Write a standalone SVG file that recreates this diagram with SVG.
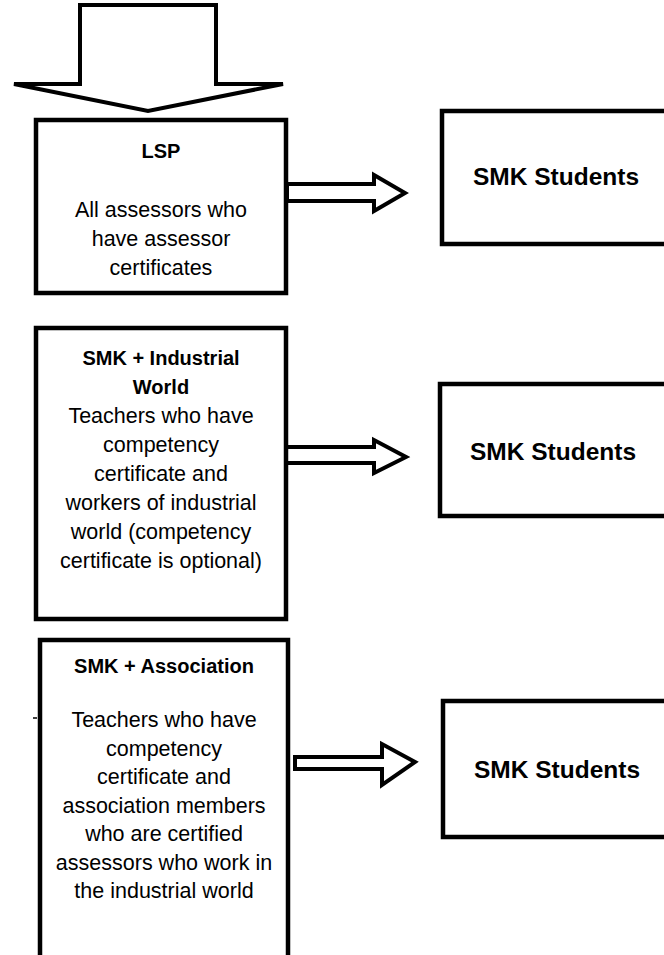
<svg xmlns="http://www.w3.org/2000/svg" width="664" height="955" viewBox="0 0 664 955">
<style>
.box{fill:#fff;stroke:#000;stroke-width:4.5}
.arr{fill:#fff;stroke:#000;stroke-width:4;stroke-linejoin:miter}
text{font-family:"Liberation Sans",Arial,sans-serif;fill:#000;text-anchor:middle}
.t{font-size:21.5px}
.h{font-size:20px;font-weight:bold}
.s{font-size:24.5px;font-weight:bold}
</style>
<rect width="664" height="955" fill="#fff"/>
<g id="connectors">
<polygon class="arr" points="80,5 216,5 216,84 283,84 148,111 14,84 80,84"/>
<polygon class="arr" points="287,184 374,184 374,175 405,193 374,211 374,201 287,201"/>
<polygon class="arr" points="286,447 374,447 374,440 406,457 374,473 374,463 286,463"/>
<polygon class="arr" points="295,757 382,757 382,744 415,762 382,785 382,769 295,769"/>
<line x1="33" y1="718" x2="37" y2="718" stroke="#000" stroke-width="1.5"/>
</g>
<g id="lsp">
<rect class="box" x="36" y="120" width="250" height="173"/>
<text class="h" x="161" y="158">LSP</text>
<text class="t" x="161" y="217">All assessors who</text>
<text class="t" x="161" y="246">have assessor</text>
<text class="t" x="161" y="275">certificates</text>
</g>
<g id="smk-industrial">
<rect class="box" x="36" y="328" width="250" height="291"/>
<text class="h" x="161" y="365">SMK + Industrial</text>
<text class="h" x="161" y="394">World</text>
<text class="t" x="161" y="423">Teachers who have</text>
<text class="t" x="161" y="452">competency</text>
<text class="t" x="161" y="481">certificate and</text>
<text class="t" x="161" y="510">workers of industrial</text>
<text class="t" x="161" y="539">world (competency</text>
<text class="t" x="161" y="568">certificate is optional)</text>
</g>
<g id="smk-association">
<rect class="box" x="40" y="640" width="248" height="330"/>
<text class="h" x="164" y="673">SMK + Association</text>
<text class="t" x="164" y="727">Teachers who have</text>
<text class="t" x="164" y="756">competency</text>
<text class="t" x="164" y="784">certificate and</text>
<text class="t" x="164" y="813">association members</text>
<text class="t" x="164" y="841">who are certified</text>
<text class="t" x="164" y="870">assessors who work in</text>
<text class="t" x="164" y="898">the industrial world</text>
</g>
<g id="students1">
<rect class="box" x="442" y="111" width="240" height="133"/>
<text class="s" x="556" y="185">SMK Students</text>
</g>
<g id="students2">
<rect class="box" x="440" y="384" width="240" height="132"/>
<text class="s" x="553" y="460">SMK Students</text>
</g>
<g id="students3">
<rect class="box" x="443" y="701" width="240" height="136"/>
<text class="s" x="557" y="778">SMK Students</text>
</g>
</svg>
